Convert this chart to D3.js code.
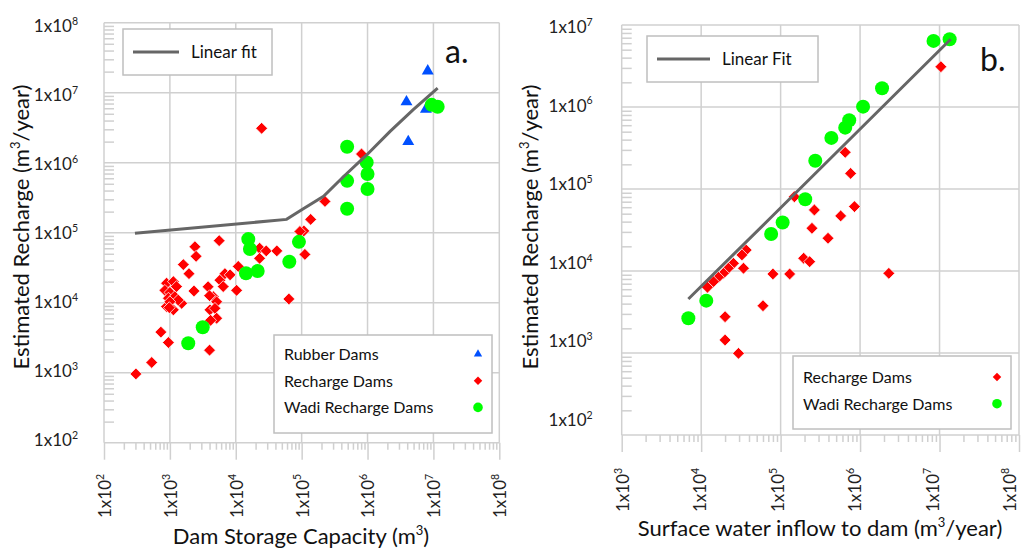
<!DOCTYPE html>
<html>
<head>
<meta charset="utf-8">
<script src="https://cdn.jsdelivr.net/npm/d3@7"></script>
<style>
  body { margin: 0; background: #fff; }
  svg { display: block; }
</style>
</head>
<body>
<svg id="chart"></svg>
<script>
// ---- panel a: recharge vs dam storage capacity (m3, m3/year) ----
var rubberA = [[8.2e6, 2.04e7], [3.9e6, 7.4e6], [7.7e6, 5.8e6], [4.15e6, 2.0e6]];

var rechargeA = [
	[305, 960], [530, 1400], [950, 2700], [730, 3800], [4000, 2100],
	[5600, 77000], [2400, 63000], [2500, 46000], [1600, 35000], [1950, 26000],
	[890, 19000], [1130, 20000], [1260, 17000], [840, 15000], [1000, 14000],
	[950, 11600], [1190, 12200], [890, 8800], [1130, 7900], [1510, 9800],
	[1340, 10900], [1000, 10300], [980, 8500], [2320, 14700],
	[3800, 16900], [4560, 12200], [5130, 10300], [4060, 7900], [4830, 8300],
	[5130, 6000], [4150, 5600], [4000, 12600],
	[5750, 21000], [6850, 26000], [8200, 25000], [10900, 33000], [10300, 15000], [6450, 17000],
	[23000, 60000], [29000, 55000], [42000, 55000], [23000, 43000], [64000, 11300],
	[24700, 3.1e6], [8.1e5, 1.33e6], [2.26e5, 2.8e5], [1.37e5, 1.55e5],
	[1.08e5, 1.06e5], [9.4e4, 1.04e5], [1.12e5, 49000]
];

var wadiA = [
	[4.9e5, 1.69e6], [9.7e5, 1.01e6], [1.0e6, 6.9e5], [1.0e6, 4.2e5], [4.9e5, 5.5e5],
	[4.9e5, 2.2e5], [9.4e6, 6.7e6], [1.16e7, 6.3e6], [91000, 74000], [65000, 38500],
	[15500, 81000], [16400, 58500], [14300, 26300], [21500, 28400], [3150, 4460], [1900, 2630]
];

var fitA = [
	[295, 9.8e4], [5.9e4, 1.55e5], [1.06e5, 2.2e5], [2.15e5, 3.3e5], [4.3e5, 6.3e5],
	[9.7e5, 1.29e6], [2.2e6, 2.8e6], [4.9e6, 5.7e6], [1.16e7, 1.16e7]
];

// ---- panel b: recharge vs surface water inflow (m3/year) ----
var rechargeB = [
	[1.04e7, 3.1e6], [6.5e5, 2.8e5], [7.6e5, 1.55e5], [8.5e5, 6.1e4], [5.7e5, 4.7e4],
	[1.49e5, 8.05e4], [2.66e5, 5.55e4], [2.48e5, 3.32e4], [3.95e5, 2.51e4], [1.95e5, 1.43e4],
	[2.32e5, 1.3e4], [8.0e4, 9200], [1.3e5, 9200], [6.0e4, 3770], [3.41e4, 10800],
	[3.69e4, 18000], [3.26e4, 15700], [2.55e4, 12400], [2.2e4, 10800], [1.91e4, 9370],
	[1.65e4, 8380], [1.43e4, 7410], [1.2e4, 6330], [2.0e4, 2770], [2.0e4, 1440],
	[2.95e4, 990], [2.3e6, 9370]
];

var wadiB = [
	[8.4e6, 6.4e6], [1.34e7, 6.7e6], [1.89e6, 1.69e6], [1.09e6, 1.01e6], [7.3e5, 6.9e5],
	[6.5e5, 5.6e5], [4.35e5, 4.2e5], [2.73e5, 2.21e5], [2.04e5, 7.5e4], [1.06e5, 3.9e4],
	[7.6e4, 2.83e4], [11600, 4350], [6900, 2650]
];

var fitB = [[6900, 4560], [73800, 44000], [1.38e7, 6.7e6]];

// axis extents (decades)
var xDomainA = [1e2, 1e8], yDomainA = [1e2, 1e8];
var xDomainB = [1e3, 1e8], yDomainB = [1e2, 1e7];

var FONT = "Lato, 'Open Sans', sans-serif";
var GRID = "#d0d0d0";
var RED = "#ff0000", GREEN = "#00ff00", BLUE = "#0050ff", FITC = "#666666";
var TICK_FS = 17;

var svg = d3.select("#chart").attr("width", 1022).attr("height", 549)
	.style("font-family", FONT);

svg.append("rect").attr("width", 1022).attr("height", 549).attr("fill", "#fff");

const decades = (dom) => d3.range(Math.round(Math.log10(dom[0])), Math.round(Math.log10(dom[1])) + 1).map(e => Math.pow(10, e));
const minors = (dom) => {
	let out = [];
	decades(dom).slice(0, -1).forEach(d => { for (let k = 2; k <= 9; k++) out.push(k * d); });
	return out;
};

// "1x10" with a raised exponent
function powLabel(t, d, size) {
	t.append("tspan").text("1x10");
	t.append("tspan").attr("dy", -size * 0.42).attr("font-size", size * 0.62).text(Math.round(Math.log10(d)));
}

function drawPanel(p) {
	const g = svg.append("g");
	const xl = p.x.range()[0], xr = p.x.range()[1];
	const yb = p.y.range()[0], yt = p.y.range()[1];
	const xDec = decades(p.x.domain()), yDec = decades(p.y.domain());

	// grid
	g.selectAll(".vg").data(xDec).join("line")
		.attr("x1", d => p.x(d)).attr("x2", d => p.x(d))
		.attr("y1", yt).attr("y2", yb)
		.attr("stroke", GRID).attr("stroke-width", 1.5);
	g.selectAll(".hg").data(yDec).join("line")
		.attr("x1", xl).attr("x2", xr)
		.attr("y1", d => p.y(d)).attr("y2", d => p.y(d))
		.attr("stroke", GRID).attr("stroke-width", 1.5);

	// ticks
	const tickStyle = a => {
		a.select(".domain").remove();
		a.selectAll("line").attr("stroke-width", 1.5);
	};
	g.append("g").attr("color", GRID).attr("transform", `translate(0,${yb})`)
		.call(d3.axisBottom(p.x).tickValues(xDec).tickSize(17).tickFormat(""))
		.call(tickStyle);
	g.append("g").attr("color", GRID).attr("transform", `translate(0,${yb})`)
		.call(d3.axisBottom(p.x).tickValues(minors(p.x.domain())).tickSize(7).tickFormat(""))
		.call(tickStyle);
	g.append("g").attr("color", GRID).attr("transform", `translate(${xl},0)`)
		.call(d3.axisRight(p.y).tickValues(minors(p.y.domain())).tickSize(10).tickFormat(""))
		.call(tickStyle);

	// tick labels
	g.selectAll(".xl").data(xDec).join("text")
		.attr("transform", d => `translate(${p.xLab(d)},${p.xLabelY}) rotate(-90)`)
		.attr("font-size", TICK_FS).attr("fill", "#222")
		.each(function (d) { powLabel(d3.select(this), d, TICK_FS); });
	g.selectAll(".yl").data(yDec).join("text")
		.attr("x", xl - p.yLabelGap).attr("y", d => p.yLab(d))
		.attr("text-anchor", "end")
		.attr("font-size", TICK_FS).attr("fill", "#222")
		.each(function (d) { powLabel(d3.select(this), d, TICK_FS); });

	// axis titles
	const xt = g.append("text").attr("x", p.xTitle[0]).attr("y", p.xTitle[1])
		.attr("text-anchor", "middle").attr("font-size", 22).attr("fill", "#111");
	xt.append("tspan").text(p.xTitleText[0]);
	xt.append("tspan").attr("dy", -9).attr("font-size", 13).text("3");
	xt.append("tspan").attr("dy", 9).text(p.xTitleText[1]);

	const ytl = g.append("text")
		.attr("transform", `translate(${p.yTitle[0]},${p.yTitle[1]}) rotate(-90)`)
		.attr("text-anchor", "middle").attr("font-size", 22).attr("fill", "#111");
	ytl.append("tspan").text("Estimated Recharge (m");
	ytl.append("tspan").attr("dy", -9).attr("font-size", 13).text("3");
	ytl.append("tspan").attr("dy", 9).text("/year)");

	// markers
	const pos = d => `translate(${p.x(d[0])},${p.y(d[1])})`;
	if (p.rubber) {
		g.selectAll(".tri").data(p.rubber).join("path")
			.attr("d", d3.symbol(d3.symbolTriangle, 62)())
			.attr("transform", pos).attr("fill", BLUE);
	}
	g.selectAll(".dia").data(p.recharge).join("path")
		.attr("d", d3.symbol(d3.symbolSquare, 70)())
		.attr("transform", d => pos(d) + " rotate(45)")
		.attr("fill", RED).attr("stroke", "#fff").attr("stroke-width", 0.7);
	g.selectAll(".dot").data(p.wadi).join("circle")
		.attr("cx", d => p.x(d[0])).attr("cy", d => p.y(d[1])).attr("r", 7)
		.attr("fill", GREEN);

	g.append("path").datum(p.fit)
		.attr("d", d3.line().x(d => p.x(d[0])).y(d => p.y(d[1])))
		.attr("fill", "none").attr("stroke", FITC).attr("stroke-width", 3);

	// fit legend
	const lf = p.fitLegend;
	g.append("rect").attr("x", lf.x).attr("y", lf.y).attr("width", lf.w).attr("height", lf.h)
		.attr("fill", "#fff").attr("stroke", "#bfbfbf").attr("stroke-width", 1.5);
	g.append("line").attr("x1", lf.x + 10).attr("x2", lf.x + 10 + lf.len)
		.attr("y1", lf.y + lf.h / 2).attr("y2", lf.y + lf.h / 2)
		.attr("stroke", FITC).attr("stroke-width", 3);
	g.append("text").attr("x", lf.x + 22 + lf.len).attr("y", lf.y + lf.h / 2 + 6)
		.attr("font-size", 17).attr("fill", "#111").text(p.fitName);

	// series legend
	const ls = p.seriesLegend;
	g.append("rect").attr("x", ls.x).attr("y", ls.y).attr("width", ls.w).attr("height", ls.h)
		.attr("fill", "#fff").attr("stroke", "#bfbfbf").attr("stroke-width", 1.5);
	p.series.forEach((s, i) => {
		const cy = ls.y + ls.top + i * 26.7;
		g.append("text").attr("x", ls.x + 10).attr("y", cy + 6)
			.attr("font-size", 16).attr("fill", "#111").text(s);
		const mx = ls.x + ls.w - 14;
		const kind = p.kinds[i];
		if (kind === "tri") {
			g.append("path").attr("d", d3.symbol(d3.symbolTriangle, 30)())
				.attr("transform", `translate(${mx},${cy})`).attr("fill", BLUE);
		} else if (kind === "dia") {
			g.append("path").attr("d", d3.symbol(d3.symbolSquare, 36)())
				.attr("transform", `translate(${mx},${cy}) rotate(45)`).attr("fill", RED);
		} else {
			g.append("circle").attr("cx", mx).attr("cy", cy).attr("r", 4.8).attr("fill", GREEN);
		}
	});

	// panel letter
	g.append("text").attr("x", p.letter[0]).attr("y", p.letter[1])
		.attr("font-size", 32).attr("fill", "#111").text(p.letterText);
}

drawPanel({
	x: d3.scaleLog().domain(xDomainA).range([104, 499.3]),
	y: d3.scaleLog().domain(yDomainA).range([442.7, 22.7]),
	xLab: d3.scaleLog().domain(xDomainA).range([111, 506]),
	yLab: d3.scaleLog().domain(yDomainA).range([446, 32]),
	yLabelGap: 26,
	xLabelY: 518,
	xTitle: [301, 544], xTitleText: ["Dam Storage Capacity (m", ")"],
	yTitle: [29, 227],
	rubber: rubberA, recharge: rechargeA, wadi: wadiA, fit: fitA,
	fitName: "Linear fit",
	fitLegend: { x: 123, y: 29, w: 149, h: 46, len: 46 },
	seriesLegend: { x: 274, y: 335, w: 218, h: 98, top: 19 },
	series: ["Rubber Dams", "Recharge Dams", "Wadi Recharge Dams"],
	kinds: ["tri", "dia", "dot"],
	letter: [445, 63], letterText: "a."
});

drawPanel({
	x: d3.scaleLog().domain(xDomainB).range([621.7, 1019]),
	y: d3.scaleLog().domain(yDomainB).range([435, 25]),
	xLab: d3.scaleLog().domain(xDomainB).range([629, 1016]),
	yLab: d3.scaleLog().domain(yDomainB).range([426, 33]),
	yLabelGap: 29,
	xLabelY: 512,
	xTitle: [820, 536], xTitleText: ["Surface water inflow to dam (m", "/year)"],
	yTitle: [538, 227],
	rubber: null, recharge: rechargeB, wadi: wadiB, fit: fitB,
	fitName: "Linear Fit",
	fitLegend: { x: 647, y: 36, w: 171, h: 46, len: 53 },
	seriesLegend: { x: 793, y: 356, w: 218, h: 73, top: 21 },
	series: ["Recharge Dams", "Wadi Recharge Dams"],
	kinds: ["dia", "dot"],
	letter: [980, 71], letterText: "b."
});
</script>
</body>
</html>
